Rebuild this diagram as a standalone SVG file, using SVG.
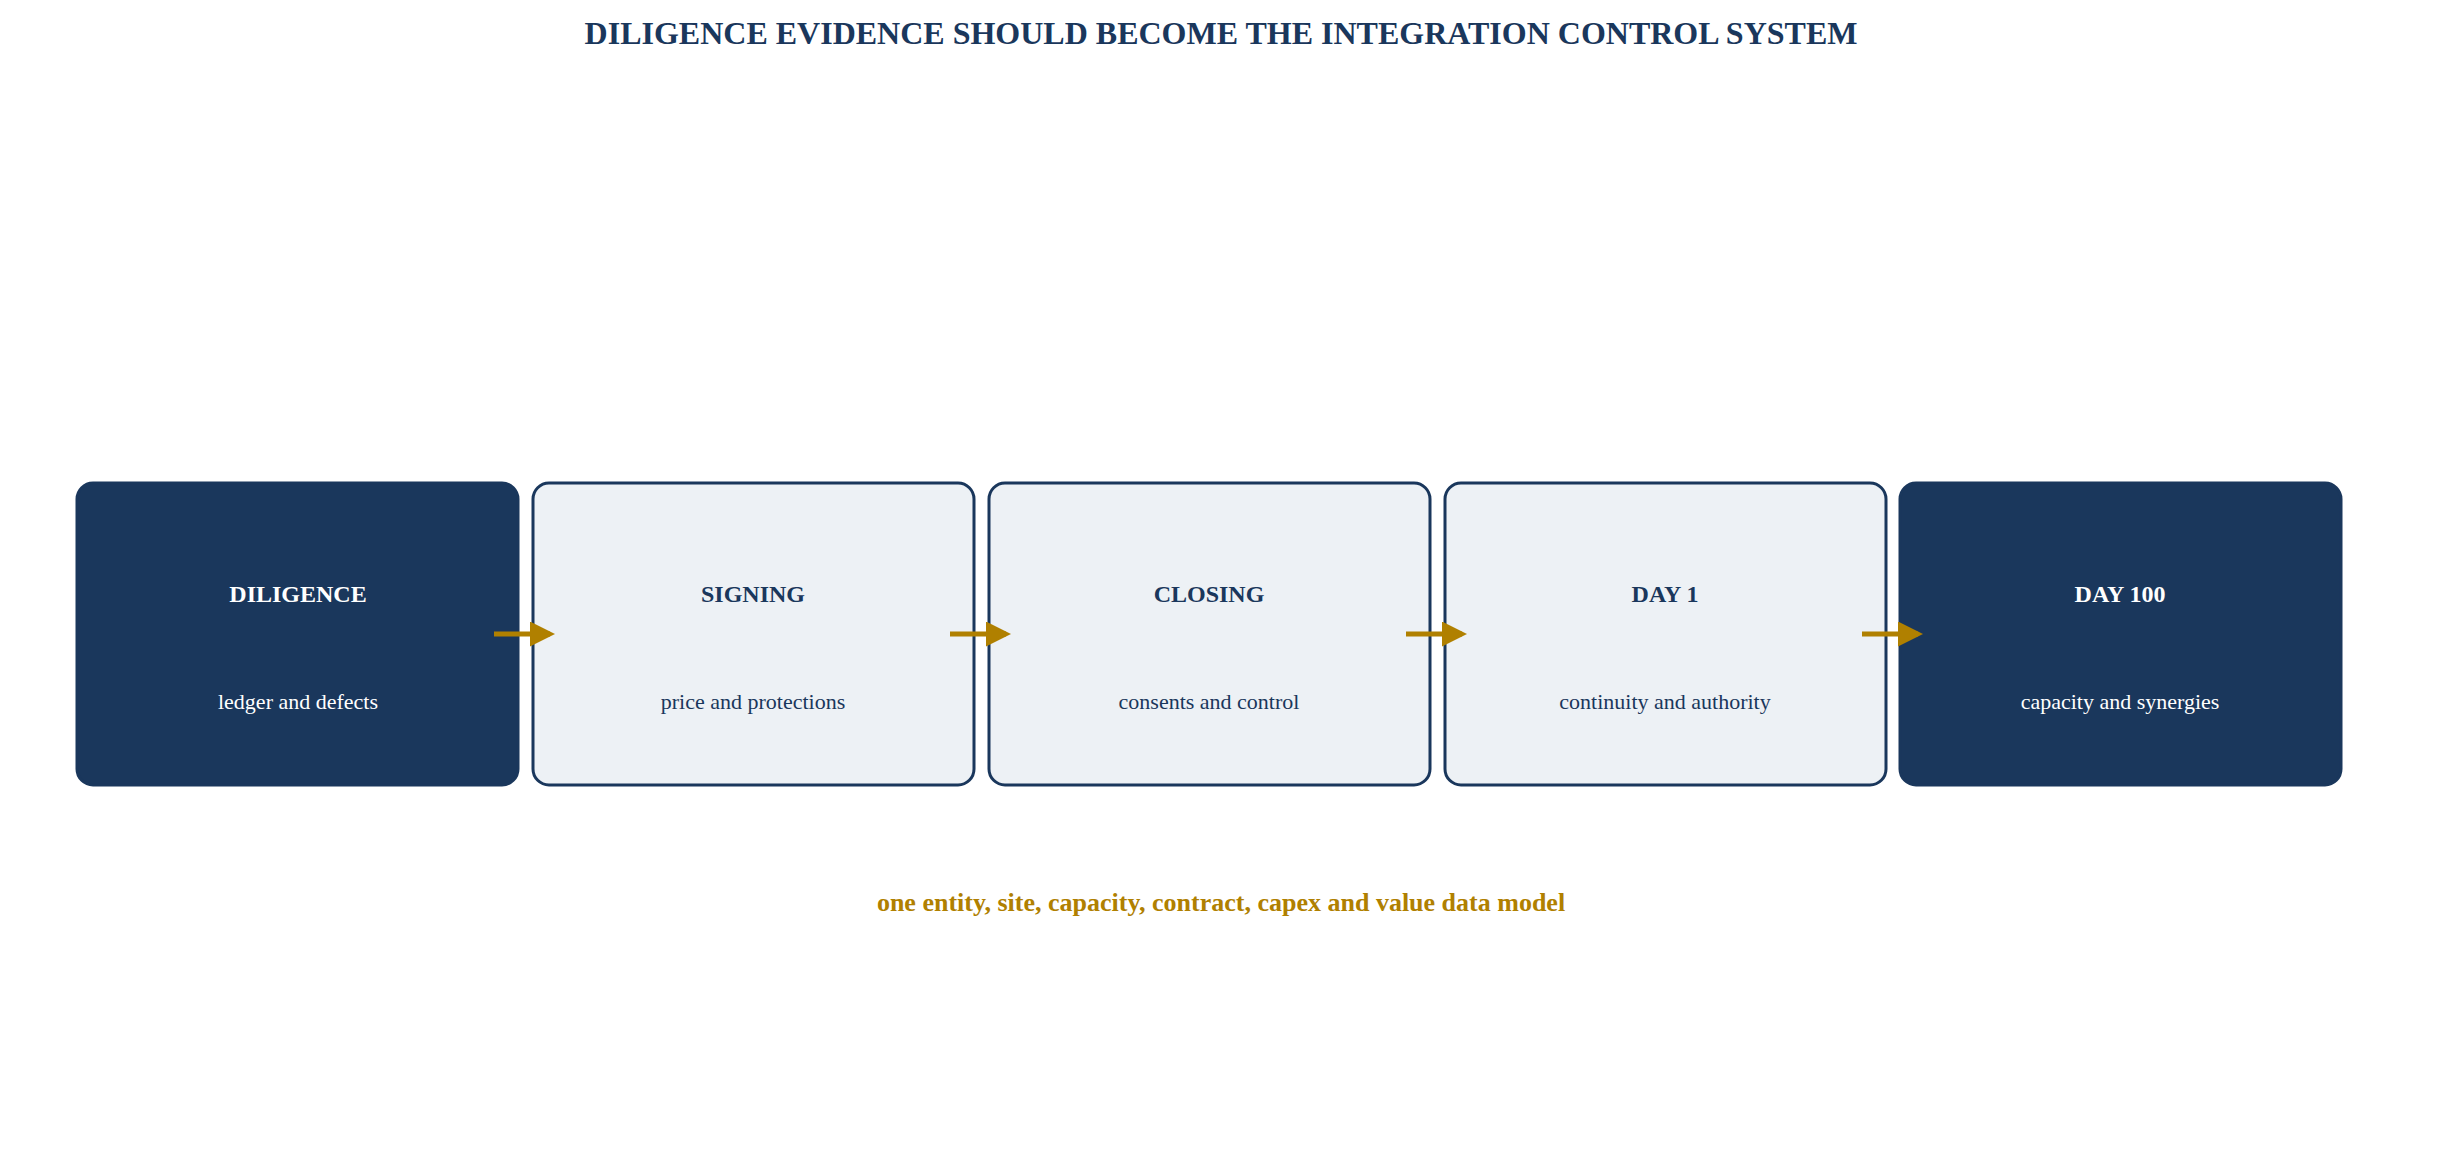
<svg xmlns="http://www.w3.org/2000/svg" width="2442" height="1166" viewBox="0 0 2442 1166">
<style>
.t{font-family:"Liberation Serif",serif;font-weight:bold;font-size:32px;fill:#1a375c;text-anchor:middle}
.dark rect{fill:#1a375c;stroke:#1a375c;stroke-width:3}
.light rect{fill:#edf1f5;stroke:#1a375c;stroke-width:3}
.h{font-family:"Liberation Serif",serif;font-weight:bold;font-size:24px;text-anchor:middle}
.s{font-family:"Liberation Serif",serif;font-size:22px;text-anchor:middle}
.dark text{fill:#ffffff}
.light text{fill:#1a375c}
.c line{stroke:#b08000;stroke-width:5}
.f{font-family:"Liberation Serif",serif;font-weight:bold;font-size:26px;fill:#b08000;text-anchor:middle}
</style>
<defs><marker id="a" markerWidth="5" markerHeight="5" refX="4" refY="2.5" orient="auto"><path d="M0,0L5,2.5L0,5z" fill="#b08000"/></marker></defs>
<rect width="2442" height="1166" fill="#fff"/>
<text class="t" x="1221" y="44">DILIGENCE EVIDENCE SHOULD BECOME THE INTEGRATION CONTROL SYSTEM</text>
<g id="n1" class="dark"><rect x="77" y="483" width="441" height="302" rx="16"/><text class="h" x="298" y="602">DILIGENCE</text><text class="s" x="298" y="709">ledger and defects</text></g>
<g id="n2" class="light"><rect x="533" y="483" width="441" height="302" rx="16"/><text class="h" x="753" y="602">SIGNING</text><text class="s" x="753" y="709">price and protections</text></g>
<g id="n3" class="light"><rect x="989" y="483" width="441" height="302" rx="16"/><text class="h" x="1209" y="602">CLOSING</text><text class="s" x="1209" y="709">consents and control</text></g>
<g id="n4" class="light"><rect x="1445" y="483" width="441" height="302" rx="16"/><text class="h" x="1665" y="602">DAY 1</text><text class="s" x="1665" y="709">continuity and authority</text></g>
<g id="n5" class="dark"><rect x="1900" y="483" width="441" height="302" rx="16"/><text class="h" x="2120" y="602">DAY 100</text><text class="s" x="2120" y="709">capacity and synergies</text></g>
<g class="c">
<line x1="494" y1="634" x2="550" y2="634" marker-end="url(#a)"/>
<line x1="950" y1="634" x2="1006" y2="634" marker-end="url(#a)"/>
<line x1="1406" y1="634" x2="1462" y2="634" marker-end="url(#a)"/>
<line x1="1862" y1="634" x2="1918" y2="634" marker-end="url(#a)"/>
</g>
<text class="f" x="1221" y="911">one entity, site, capacity, contract, capex and value data model</text>
</svg>
